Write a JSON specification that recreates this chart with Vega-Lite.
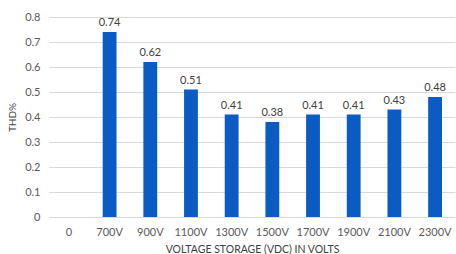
{
  "$schema": "https://vega.github.io/schema/vega-lite/v6.json",
  "autosize": "none",
  "width": 406,
  "height": 200,
  "padding": {"left": 49, "top": 17, "right": 1, "bottom": 37},
  "background": "white",
  "config": {
    "view": {"stroke": null},
    "font": "Lato",
    "axis": {"labelFont": "Lato", "titleFont": "Lato", "labelColor": "#595959", "titleColor": "#404040"}
  },
  "data": {"values": [
    {"v": "0", "thd": 0},
    {"v": "700V", "thd": 0.74},
    {"v": "900V", "thd": 0.62},
    {"v": "1100V", "thd": 0.51},
    {"v": "1300V", "thd": 0.41},
    {"v": "1500V", "thd": 0.38},
    {"v": "1700V", "thd": 0.41},
    {"v": "1900V", "thd": 0.41},
    {"v": "2100V", "thd": 0.43},
    {"v": "2300V", "thd": 0.48}
  ]},
  "encoding": {
    "x": {"field": "v", "type": "nominal", "sort": null,
      "scale": {"paddingInner": 0.66, "paddingOuter": 0.32},
      "axis": {"title": "VOLTAGE STORAGE (VDC) IN VOLTS", "labelAngle": 0, "domain": false, "ticks": false,
        "labelPadding": 9, "labelFontSize": 11, "titleFontSize": 10.5, "titleFontWeight": "normal", "titlePadding": 7}}
  },
  "layer": [
    {
      "mark": {"type": "bar", "color": "#0A5BC4"},
      "encoding": {
        "y": {"field": "thd", "type": "quantitative", "scale": {"domain": [0, 0.8], "nice": false},
          "axis": {"title": "THD%", "values": [0, 0.1, 0.2, 0.3, 0.4, 0.5, 0.6, 0.7, 0.8], "format": "~g",
            "domain": false, "ticks": false, "gridColor": "#d9d9d9", "labelPadding": 9, "labelFontSize": 11,
            "titleFontSize": 10, "titleFontWeight": "normal", "titlePadding": 7, "zindex": 0}}
      }
    },
    {
      "mark": {"type": "text", "dy": -9, "fontSize": 11, "color": "#404040", "font": "Lato"},
      "transform": [{"filter": "datum.thd > 0"}],
      "encoding": {
        "y": {"field": "thd", "type": "quantitative",
          "axis": {"title": null, "orient": "left", "labels": false, "domain": false, "ticks": false,
            "gridColor": "#ececec",
            "values": [0.02,0.04,0.06,0.08,0.12,0.14,0.16,0.18,0.22,0.24,0.26,0.28,0.32,0.34,0.36,0.38,0.42,0.44,0.46,0.48,0.52,0.54,0.56,0.58,0.62,0.64,0.66,0.68,0.72,0.74,0.76,0.78],
            "zindex": 0}},
        "text": {"field": "thd", "type": "quantitative", "format": ".2f"}
      }
    }
  ],
  "resolve": {"axis": {"y": "independent"}}
}
